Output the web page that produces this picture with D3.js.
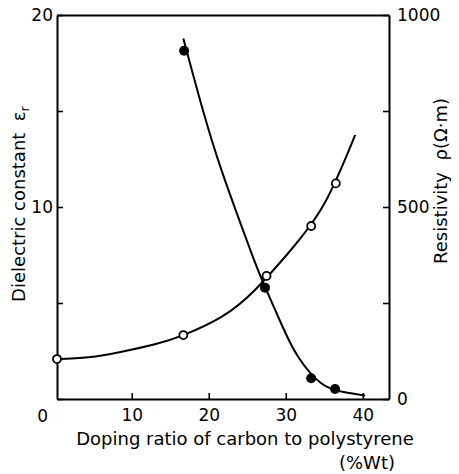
<!DOCTYPE html>
<html>
<head>
<meta charset="utf-8">
<script src="https://cdn.jsdelivr.net/npm/d3@7"></script>
<style>
  body { margin: 0; background: #fff; }
  text { font-family: "DejaVu Sans", sans-serif; fill: #000; }
</style>
</head>
<body>
<svg id="chart"></svg>
<script>
// Doping ratio (%Wt) and measured values
var epsX = [0.3, 16.7, 27.5, 33.3, 36.5];
var epsY = [2.08, 3.33, 6.41, 9.01, 11.23];
var rhoX = [16.8, 27.3, 33.3, 36.4];
var rhoY = [907, 290, 54, 26];

// fitted curves
var epsCurveX = [0.3, 4.4, 8.7, 13.0, 16.7, 21.7, 26.0, 30.3, 34.9, 39.0];
var epsCurveY = [2.08, 2.17, 2.46, 2.85, 3.33, 4.29, 5.68, 7.59, 10.1, 13.75];
var rhoCurveX = [16.7, 19.3, 21.5, 23.6, 25.8, 27.3, 29.5, 31.6, 34.6, 37.5, 40.3];
var rhoCurveY = [939, 748, 605, 486, 366, 292, 192, 110, 41, 18, 9];

// tick labels
var xTicks = [10, 20, 30, 40];
var epsTicks = [0, 5, 10, 15, 20];
var rhoTicks = [0, 250, 500, 750, 1000];

var width = 459, height = 474;

var svg = d3.select("#chart")
    .attr("width", width)
    .attr("height", height);

//Scales
var x = d3.scaleLinear([0.3, 43.4], [57, 389]);
var yL = d3.scaleLinear([0, 20], [399, 15]);
var yR = d3.scaleLinear([0, 1000], [399, 15]);

function styleAxis(g) {
    g.select(".domain").attr("stroke-width", 2);
    g.selectAll(".tick line").attr("stroke-width", 1.6);
    g.selectAll(".tick text").style("font-family", "DejaVu Sans").style("font-size", "17px");
}

//Bottom axis
svg.append("g")
    .attr("transform", "translate(0," + yL(0) + ")")
    .call(d3.axisBottom(x).tickValues(xTicks).tickSize(-6).tickSizeOuter(0).tickPadding(10))
    .call(styleAxis);

//Top frame line
svg.append("g")
    .attr("transform", "translate(0," + yL(20) + ")")
    .call(d3.axisTop(x).tickValues([]).tickSizeOuter(0))
    .call(styleAxis);

//Left axis
svg.append("g")
    .attr("transform", "translate(" + x.range()[0] + ",0)")
    .call(d3.axisLeft(yL).tickValues(epsTicks).tickSize(-6).tickSizeOuter(0).tickPadding(4)
        .tickFormat(function (d) { return d % 10 === 0 && d > 0 ? d : ""; }))
    .call(styleAxis);

//Right axis
svg.append("g")
    .attr("transform", "translate(" + x.range()[1] + ",0)")
    .call(d3.axisRight(yR).tickValues(rhoTicks).tickSize(-6).tickSizeOuter(0).tickPadding(8)
        .tickFormat(function (d) { return d % 500 === 0 ? d : ""; }))
    .call(styleAxis);

//Shared corner zero
svg.append("text")
    .attr("x", x(0) - 12)
    .attr("y", 422)
    .attr("text-anchor", "middle")
    .style("font-size", "17px")
    .text("0");

//Curves
var epsLine = d3.line()
    .x(function (d) { return x(d[0]); })
    .y(function (d) { return yL(d[1]); })
    .curve(d3.curveNatural);

var rhoLine = d3.line()
    .x(function (d) { return x(d[0]); })
    .y(function (d) { return yR(d[1]); })
    .curve(d3.curveNatural);

svg.append("path")
    .datum(d3.zip(epsCurveX, epsCurveY))
    .attr("d", epsLine)
    .attr("fill", "none")
    .attr("stroke", "#000")
    .attr("stroke-width", 2);

svg.append("path")
    .datum(d3.zip(rhoCurveX, rhoCurveY))
    .attr("d", rhoLine)
    .attr("fill", "none")
    .attr("stroke", "#000")
    .attr("stroke-width", 2);

//Markers
svg.selectAll("circle.eps")
    .data(d3.zip(epsX, epsY))
    .enter()
    .append("circle")
    .attr("class", "eps")
    .attr("cx", function (d) { return x(d[0]); })
    .attr("cy", function (d) { return yL(d[1]); })
    .attr("r", 4)
    .attr("fill", "#fff")
    .attr("stroke", "#000")
    .attr("stroke-width", 1.8);

svg.selectAll("circle.rho")
    .data(d3.zip(rhoX, rhoY))
    .enter()
    .append("circle")
    .attr("class", "rho")
    .attr("cx", function (d) { return x(d[0]); })
    .attr("cy", function (d) { return yR(d[1]); })
    .attr("r", 5)
    .attr("fill", "#000");

//Axis titles
var leftTitle = svg.append("text")
    .attr("transform", "translate(25,204) rotate(-90)")
    .attr("text-anchor", "middle")
    .style("font-size", "18px");
leftTitle.append("tspan").text("Dielectric constant\u00a0\u00a0\u03b5");
leftTitle.append("tspan").attr("dy", 4).style("font-size", "13px").text("r");

svg.append("text")
    .attr("transform", "translate(447,181) rotate(-90)")
    .attr("text-anchor", "middle")
    .style("font-size", "18px")
    .text("Resistivity\u00a0\u00a0\u03c1(\u03a9\u00b7m)");

svg.append("text")
    .attr("x", 245)
    .attr("y", 445)
    .attr("text-anchor", "middle")
    .style("font-size", "18px")
    .text("Doping ratio of carbon to polystyrene");

svg.append("text")
    .attr("x", 395)
    .attr("y", 469)
    .attr("text-anchor", "end")
    .style("font-size", "18px")
    .text("(%Wt)");
</script>
</body>
</html>
